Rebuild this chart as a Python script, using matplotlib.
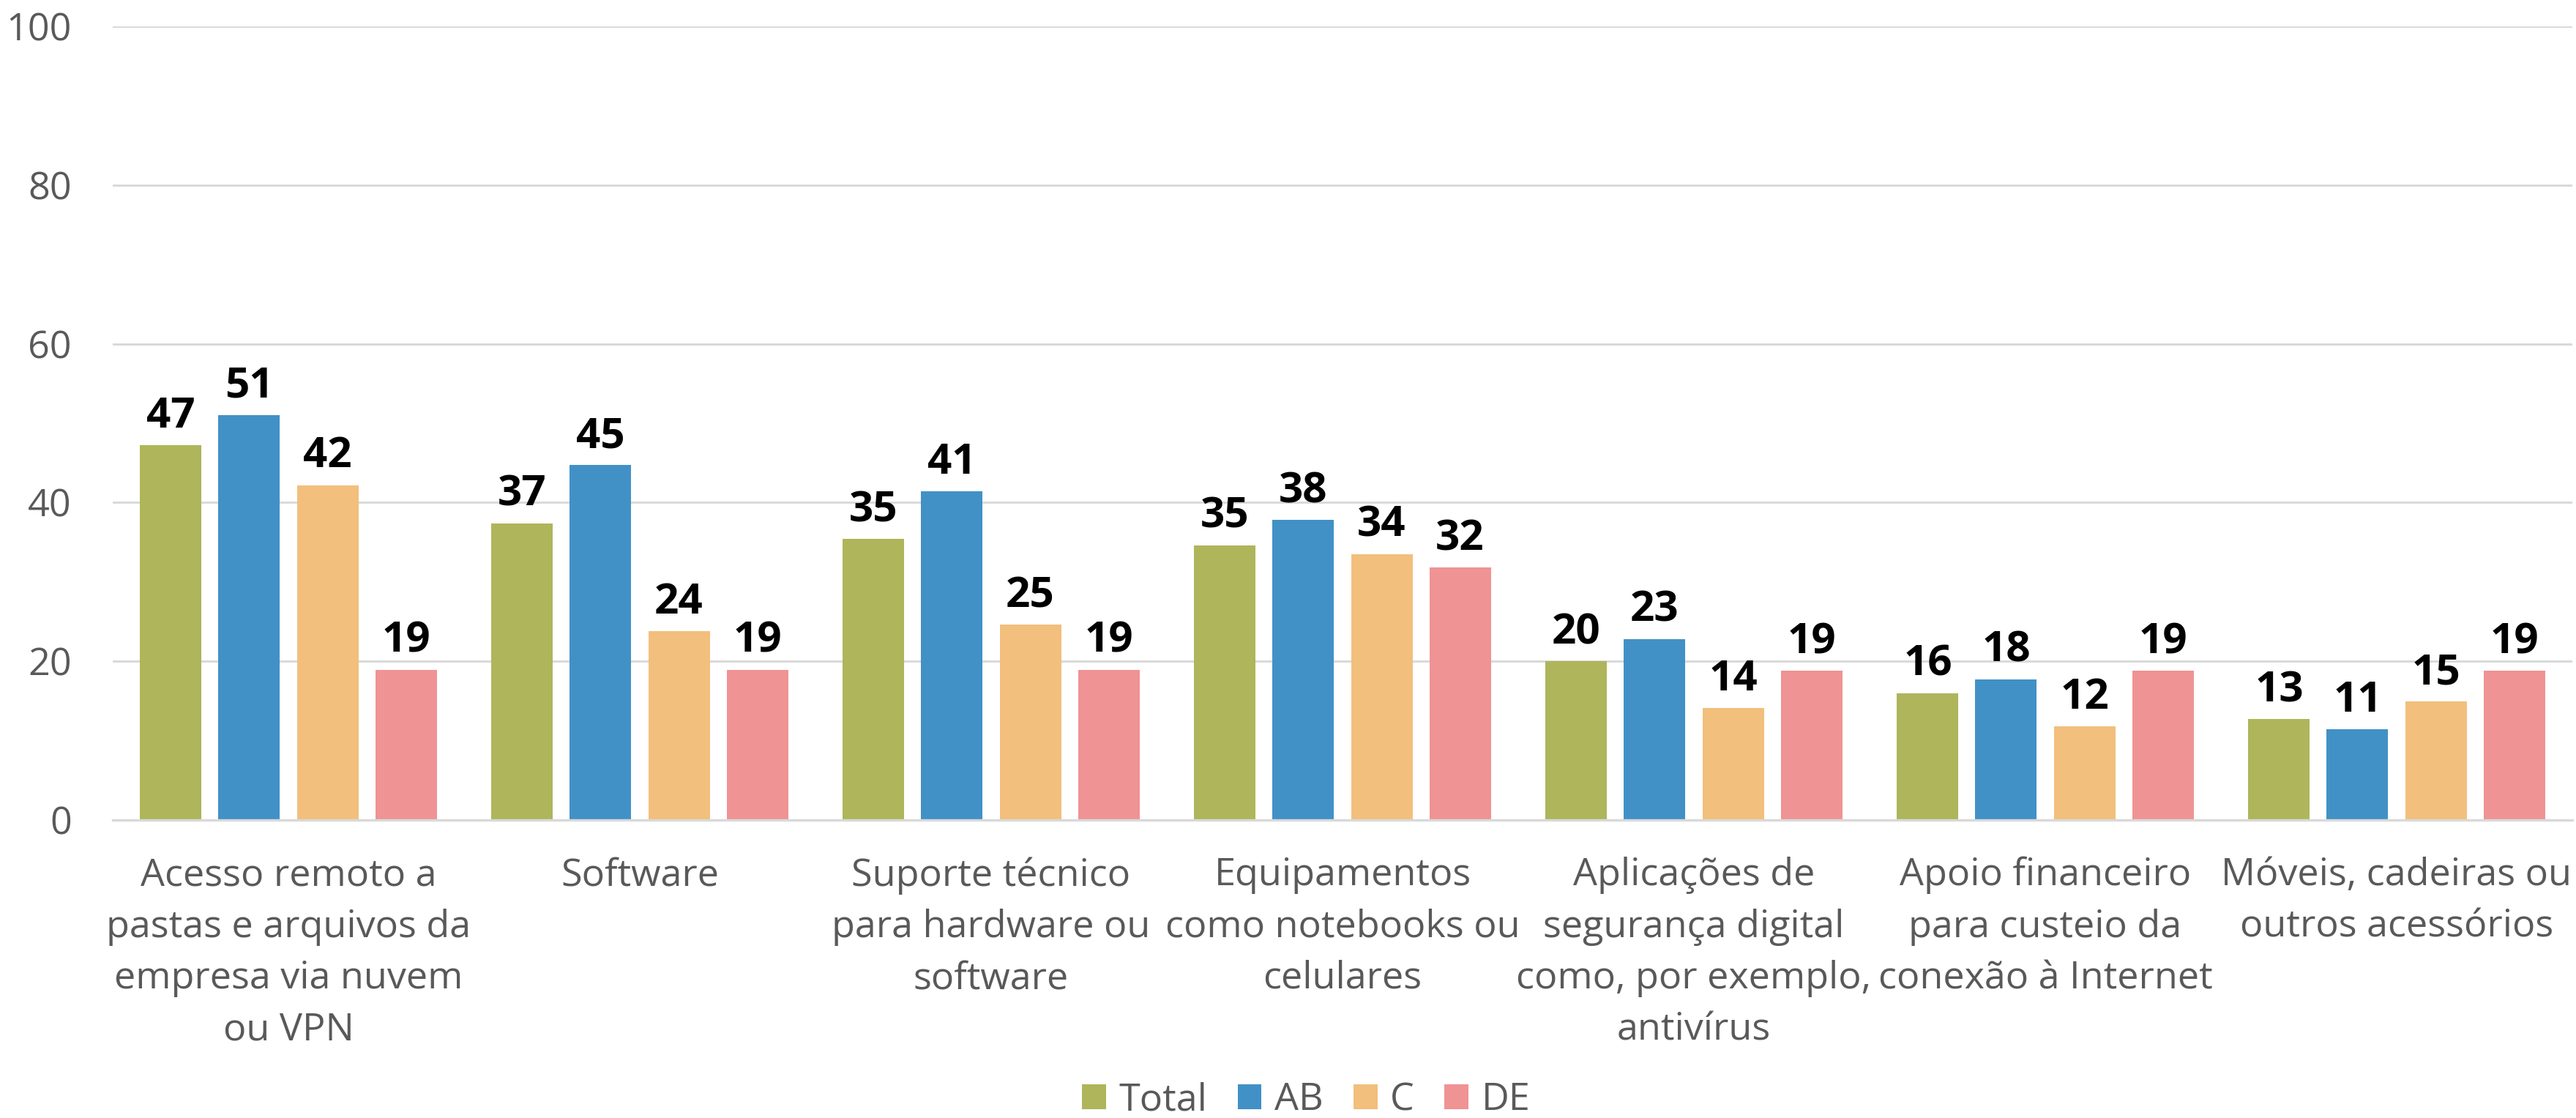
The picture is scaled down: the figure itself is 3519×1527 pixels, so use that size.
import matplotlib.pyplot as plt
import numpy as np

plt.rcParams['font.family'] = ['Open Sans', 'DejaVu Sans']

categories = [
    "Acesso remoto a\npastas e arquivos da\nempresa via nuvem\nou VPN",
    "Software",
    "Suporte técnico\npara hardware ou\nsoftware",
    "Equipamentos\ncomo notebooks ou\ncelulares",
    "Aplicações de\nsegurança digital\ncomo, por exemplo,\nantivírus",
    "Apoio financeiro\npara custeio da\nconexão à Internet",
    "Móveis, cadeiras ou\noutros acessórios",
]
series = ["Total", "AB", "C", "DE"]
total = [47.2, 37.4, 35.4, 34.6, 20.0, 16.0, 12.7]
ab = [51.0, 44.7, 41.4, 37.8, 22.8, 17.7, 11.4]
c = [42.2, 23.8, 24.6, 33.5, 14.1, 11.8, 14.9]
de = [18.9, 18.9, 18.9, 31.8, 18.8, 18.8, 18.8]
colors = ["#AEB55A", "#4191C6", "#F2BF7C", "#EF9394"]

grid_color = "#D9D9D9"
text_gray = "#595959"

fig = plt.figure(figsize=(11.73, 5.09), dpi=300)
ax = fig.add_axes([154 / 3519, 1 - 1120 / 1527, 3360 / 3519, 1084 / 1527])

x = np.arange(len(categories))
step = 0.223
width = 0.175
for k, (name, vals, col) in enumerate(zip(series, [total, ab, c, de], colors)):
    pos = x + (k - 1.5) * step
    ax.bar(pos, vals, width=width, color=col, label=name, zorder=3)
    for px, v in zip(pos, vals):
        ax.annotate(f"{v:.0f}", (px, v), xytext=(0, 5.8), textcoords="offset points",
                    ha="center", va="baseline", fontsize=14, fontweight="bold",
                    color="black", zorder=4)

ax.set_xlim(-0.5, len(categories) - 0.5)
ax.set_ylim(0, 100)
ax.set_yticks([0, 20, 40, 60, 80, 100])
ax.yaxis.grid(True, color=grid_color, linewidth=0.7, zorder=0)
ax.set_axisbelow(True)
for s in ["top", "right", "left"]:
    ax.spines[s].set_visible(False)
ax.spines["bottom"].set_color(grid_color)
ax.spines["bottom"].set_linewidth(0.8)
ax.spines["bottom"].set_zorder(5)

ax.set_xticks(x)
ax.set_xticklabels(categories, fontsize=12.5, color=text_gray, linespacing=1.5)
ax.tick_params(axis="x", length=0, pad=12)
ax.tick_params(axis="y", length=0, pad=13.5, labelsize=12.5, labelcolor=text_gray)

leg = fig.legend(loc="center", bbox_to_anchor=(0.507, 0.016), ncol=4, frameon=False,
                 fontsize=12.5, handlelength=0.63, handleheight=0.62,
                 handletextpad=0.33, columnspacing=0.8, borderaxespad=0)
for t in leg.get_texts():
    t.set_color(text_gray)

fig.savefig("out.png", dpi=300)
